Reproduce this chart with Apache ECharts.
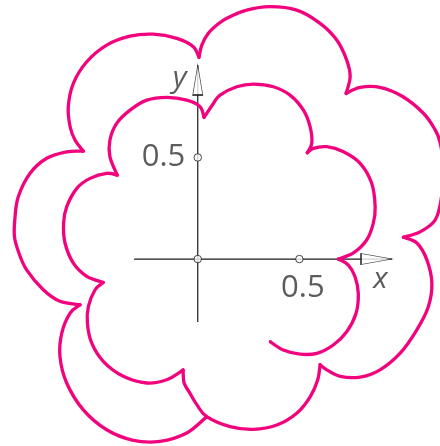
<!DOCTYPE html>
<html>
<head>
<meta charset="utf-8">
<script src="https://cdn.jsdelivr.net/npm/echarts@6/dist/echarts.min.js"></script>
<style>
  html, body { margin: 0; padding: 0; background: #fff; }
  #chart { width: 440px; height: 446px; }
</style>
</head>
<body>
<div id="chart"></div>
<script>
// Scalloped spiral: each arc (lobe) runs from one cusp to the next, [x, y] points.
const lobe1 = [[0.357,-0.407],[0.421,-0.448],[0.503,-0.468],[0.586,-0.464],[0.667,-0.423],[0.733,-0.358],[0.779,-0.267],[0.790,-0.169],[0.774,-0.087],[0.741,-0.030],[0.692,0.0]];
const lobe2 = [[0.692,0.0],[0.766,0.030],[0.832,0.095],[0.864,0.177],[0.873,0.257],[0.856,0.373],[0.799,0.471],[0.717,0.528],[0.635,0.553],[0.569,0.545],[0.539,0.523]];
const lobe3 = [[0.539,0.523],[0.561,0.569],[0.553,0.651],[0.520,0.733],[0.454,0.807],[0.372,0.848],[0.274,0.861],[0.192,0.848],[0.110,0.807],[0.077,0.766],[0.031,0.697]];
const lobe4 = [[0.031,0.697],[0.011,0.750],[-0.054,0.782],[-0.153,0.796],[-0.251,0.782],[-0.333,0.733],[-0.399,0.668],[-0.432,0.586],[-0.432,0.503],[-0.396,0.413]];
const lobe5 = [[-0.396,0.413],[-0.448,0.422],[-0.530,0.397],[-0.595,0.348],[-0.645,0.257],[-0.660,0.177],[-0.653,0.079],[-0.612,-0.020],[-0.546,-0.085],[-0.465,-0.115]];
const lobe6 = [[-0.465,-0.115],[-0.505,-0.151],[-0.538,-0.233],[-0.543,-0.315],[-0.522,-0.413],[-0.465,-0.503],[-0.366,-0.577],[-0.251,-0.610],[-0.153,-0.594],[-0.072,-0.546]];
const lobe7 = [[-0.072,-0.546],[-0.067,-0.610],[-0.038,-0.661],[-0.003,-0.719],[0.044,-0.776],[0.159,-0.825],[0.274,-0.838],[0.389,-0.817],[0.487,-0.759],[0.553,-0.678],[0.590,-0.595],[0.602,-0.520]];
const lobe8 = [[0.602,-0.520],[0.635,-0.545],[0.700,-0.577],[0.799,-0.581],[0.897,-0.545],[0.996,-0.463],[1.078,-0.348],[1.135,-0.233],[1.152,-0.118],[1.127,-0.003],[1.078,0.079],[1.012,0.107]];
const lobe9 = [[1.012,0.107],[1.094,0.134],[1.168,0.192],[1.197,0.290],[1.210,0.438],[1.192,0.576],[1.163,0.645],[1.109,0.719],[1.010,0.799],[0.897,0.845],[0.799,0.845],[0.730,0.815]];
const lobe10 = [[0.730,0.815],[0.750,0.897],[0.733,0.979],[0.684,1.078],[0.602,1.160],[0.487,1.225],[0.356,1.242],[0.241,1.225],[0.143,1.185],[0.094,1.152],[0.052,1.111],[0.020,1.053],[0.006,0.993]];
const lobe11 = [[0.006,0.993],[-0.022,1.045],[-0.103,1.086],[-0.219,1.107],[-0.333,1.097],[-0.448,1.053],[-0.546,0.971],[-0.612,0.865],[-0.637,0.750],[-0.628,0.651],[-0.604,0.586],[-0.563,0.531]];
const lobe12 = [[-0.563,0.531],[-0.645,0.528],[-0.743,0.496],[-0.825,0.422],[-0.883,0.307],[-0.899,0.208],[-0.902,0.112],[-0.880,0.030],[-0.842,-0.053],[-0.760,-0.151],[-0.678,-0.208],[-0.579,-0.225]];
const lobe13 = [[-0.579,-0.225],[-0.628,-0.266],[-0.669,-0.364],[-0.678,-0.479],[-0.645,-0.610],[-0.563,-0.742],[-0.448,-0.840],[-0.317,-0.892],[-0.186,-0.897],[-0.054,-0.856],[0.044,-0.776]];
const lobes = [lobe1, lobe2, lobe3, lobe4, lobe5, lobe6, lobe7, lobe8, lobe9, lobe10, lobe11, lobe12, lobe13];

// Coordinate axes: extents, marked ticks and their labels
const xAxisSpan = [-0.313, 0.956];
const yAxisSpan = [-0.310, 0.955];
const xTicks = [0.5];
const yTicks = [0.5];
const tickLabel = '0.5';
const xName = 'x';
const yName = 'y';

const CURVE = '#f0037c';
const INK = '#1a1a1a';
const TEXT = '#333333';
const FONT = '"Open Sans", "Liberation Sans", sans-serif';

const chart = echarts.init(document.getElementById('chart'), null, { renderer: 'canvas' });

// Smooth path through pixel points (Catmull-Rom as cubic Bezier segments)
function smoothPath(p) {
  let d = 'M' + p[0][0] + ' ' + p[0][1];
  for (let i = 0; i < p.length - 1; i++) {
    const p0 = p[i - 1] || p[i];
    const p1 = p[i];
    const p2 = p[i + 1];
    const p3 = p[i + 2] || p[i + 1];
    const c1x = p1[0] + (p2[0] - p0[0]) / 6, c1y = p1[1] + (p2[1] - p0[1]) / 6;
    const c2x = p2[0] - (p3[0] - p1[0]) / 6, c2y = p2[1] - (p3[1] - p1[1]) / 6;
    d += ' C' + c1x + ' ' + c1y + ' ' + c2x + ' ' + c2y + ' ' + p2[0] + ' ' + p2[1];
  }
  return d;
}

const series = [];

// axis lines
series.push({
  type: 'line', silent: true, symbol: 'none', z: 1,
  data: [[xAxisSpan[0], 0], [xAxisSpan[1], 0]],
  lineStyle: { color: INK, width: 1.2 }
});
series.push({
  type: 'line', silent: true, symbol: 'none', z: 1,
  data: [[0, yAxisSpan[0]], [0, yAxisSpan[1]]],
  lineStyle: { color: INK, width: 1.2 }
});

// the curve: one smooth arc per lobe so the cusps stay sharp
series.push({
  type: 'custom', silent: true, z: 2,
  data: lobes.map(function (l, i) { return [l[0][0], l[0][1], i]; }),
  encode: { x: 0, y: 1 },
  renderItem: function (params, api) {
    const pts = lobes[params.dataIndex].map(function (q) { return api.coord(q); });
    return {
      type: 'path',
      shape: { pathData: smoothPath(pts) },
      style: { fill: 'none', stroke: CURVE, lineWidth: 3.3, lineCap: 'round', lineJoin: 'round' }
    };
  }
});

// open arrowheads with axis names
series.push({
  type: 'scatter', silent: true, z: 3,
  symbol: 'triangle',
  itemStyle: { color: '#fff', borderColor: INK, borderWidth: 1.1 },
  data: [
    {
      value: [xAxisSpan[1], 0], symbolSize: [11, 31], symbolRotate: -90, symbolOffset: [-15.5, 0],
      label: { show: true, formatter: xName, position: 'inside', offset: [4, 20],
        fontSize: 30, fontStyle: 'italic', fontFamily: FONT, color: TEXT }
    },
    {
      value: [0, yAxisSpan[1]], symbolSize: [10, 30], symbolOffset: [0, 15],
      label: { show: true, formatter: yName, position: 'inside', offset: [-18, -2],
        fontSize: 30, fontStyle: 'italic', fontFamily: FONT, color: TEXT }
    }
  ]
});

// tick marks as small open circles, with their labels
const tickData = [{ value: [0, 0] }];
xTicks.forEach(function (v) {
  tickData.push({
    value: [v, 0],
    label: { show: true, formatter: tickLabel, position: 'inside', offset: [3.5, 29],
      fontSize: 31, fontFamily: FONT, color: TEXT }
  });
});
yTicks.forEach(function (v) {
  tickData.push({
    value: [0, v],
    label: { show: true, formatter: tickLabel, position: 'inside', align: 'right', offset: [-12.5, 0],
      fontSize: 31, fontFamily: FONT, color: TEXT }
  });
});
series.push({
  type: 'scatter', silent: true, z: 4,
  symbol: 'circle', symbolSize: 7.5,
  itemStyle: { color: '#fff', borderColor: INK, borderWidth: 1 },
  data: tickData
});

chart.setOption({
  animation: false,
  backgroundColor: '#fff',
  grid: { left: 0, right: 0, top: 0, bottom: 0 },
  xAxis: { type: 'value', min: -0.973, max: 1.192, show: false },
  yAxis: { type: 'value', min: -0.920, max: 1.275, show: false },
  series: series
});
</script>
</body>
</html>
